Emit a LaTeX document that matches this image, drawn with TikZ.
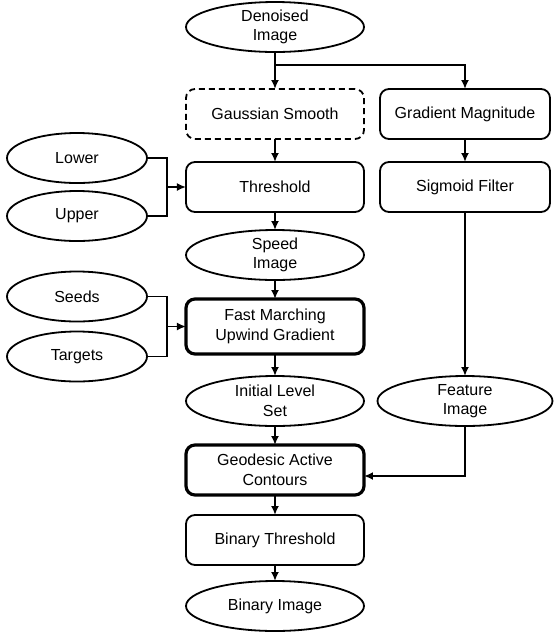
\documentclass[tikz,border=0pt]{standalone}
\usepackage{fontspec}
\setmainfont{Liberation Sans}
\usetikzlibrary{shapes.geometric, arrows.meta, positioning, calc}

\begin{document}
\begin{tikzpicture}[
    node distance=10pt and 8pt,
    font=\fontsize{8}{9.75}\selectfont,
    procbox/.style={rectangle, rounded corners=4.5pt, draw, line width=0.9pt, minimum width=89pt, minimum height=25pt, align=center, inner sep=1pt, outer sep=0pt},
    keybox/.style={procbox, line width=1.6pt},
    optbox/.style={procbox, dashed, dash pattern=on 3pt off 2pt},
    rightbox/.style={procbox, minimum width=85pt},
    data/.style={ellipse, draw, line width=0.9pt, minimum width=89pt, minimum height=25pt, align=center, inner xsep=0pt, inner ysep=-2.5pt, outer sep=0pt},
    param/.style={data, minimum width=70pt},
    arrow/.style={->, >={Latex[length=4.5pt,width=4pt]}, line width=0.9pt},
    link/.style={line width=0.9pt}
]
\useasboundingbox (0,0) rectangle (277.5pt,-317pt);

% main column
\node[data] (denoised) at (137.5pt,-13.5pt) {Denoised\\Image};
\node[optbox, below=18.5pt of denoised] (gaussian) {Gaussian Smooth};
\node[procbox, below=11.5pt of gaussian] (threshold) {Threshold};
\node[data, below=9pt of threshold] (speed) {Speed\\Image};
\node[keybox, minimum height=27.5pt, below=9.5pt of speed] (marching) {Fast Marching\\Upwind Gradient};
\node[data, below=11pt of marching] (initial) {Initial Level\\Set};
\node[keybox, below=9.5pt of initial] (geodesic) {Geodesic Active\\Contours};
\node[procbox, below=10pt of geodesic] (binthresh) {Binary Threshold};
\node[data, below=8pt of binthresh] (binimage) {Binary Image};

% right column
\node[rightbox, right=of gaussian] (gradient) {Gradient Magnitude};
\node[rightbox, below=11.5pt of gradient] (sigmoid) {Sigmoid Filter};
\node[data, minimum width=87.5pt] (feature) at (sigmoid |- initial) {Feature\\Image};

% parameters
\node[param, left=19.5pt of threshold, yshift=14.5pt] (lower) {Lower};
\node[param, left=19.5pt of threshold, yshift=-14.5pt] (upper) {Upper};
\node[param, left=19.5pt of marching, yshift=15pt] (seeds) {Seeds};
\node[param, left=19.5pt of marching, yshift=-15pt] (targets) {Targets};

\coordinate (split) at ($(denoised.south)!0.35!(gaussian.north)$);
\coordinate[left=9.5pt of threshold.west] (thjoin);
\coordinate[left=9.5pt of marching.west] (fmjoin);

\draw[arrow] (denoised) -- (gaussian);
\draw[arrow] (split) -| (gradient);
\draw[arrow] (gaussian) -- (threshold);
\draw[arrow] (gradient) -- (sigmoid);
\draw[link] (lower) -| (thjoin) |- (upper);
\draw[arrow] (thjoin) -- (threshold);
\draw[arrow] (threshold) -- (speed);
\draw[arrow] (speed) -- (marching);
\draw[link] (seeds) -| (fmjoin) |- (targets);
\draw[arrow] (fmjoin) -- (marching);
\draw[arrow] (marching) -- (initial);
\draw[arrow] (sigmoid) -- (feature);
\draw[arrow] (initial) -- (geodesic);
\draw[arrow] (feature) |- ([yshift=-3pt]geodesic.east);
\draw[arrow] (geodesic) -- (binthresh);
\draw[arrow] (binthresh) -- (binimage);

\end{tikzpicture}
\end{document}
